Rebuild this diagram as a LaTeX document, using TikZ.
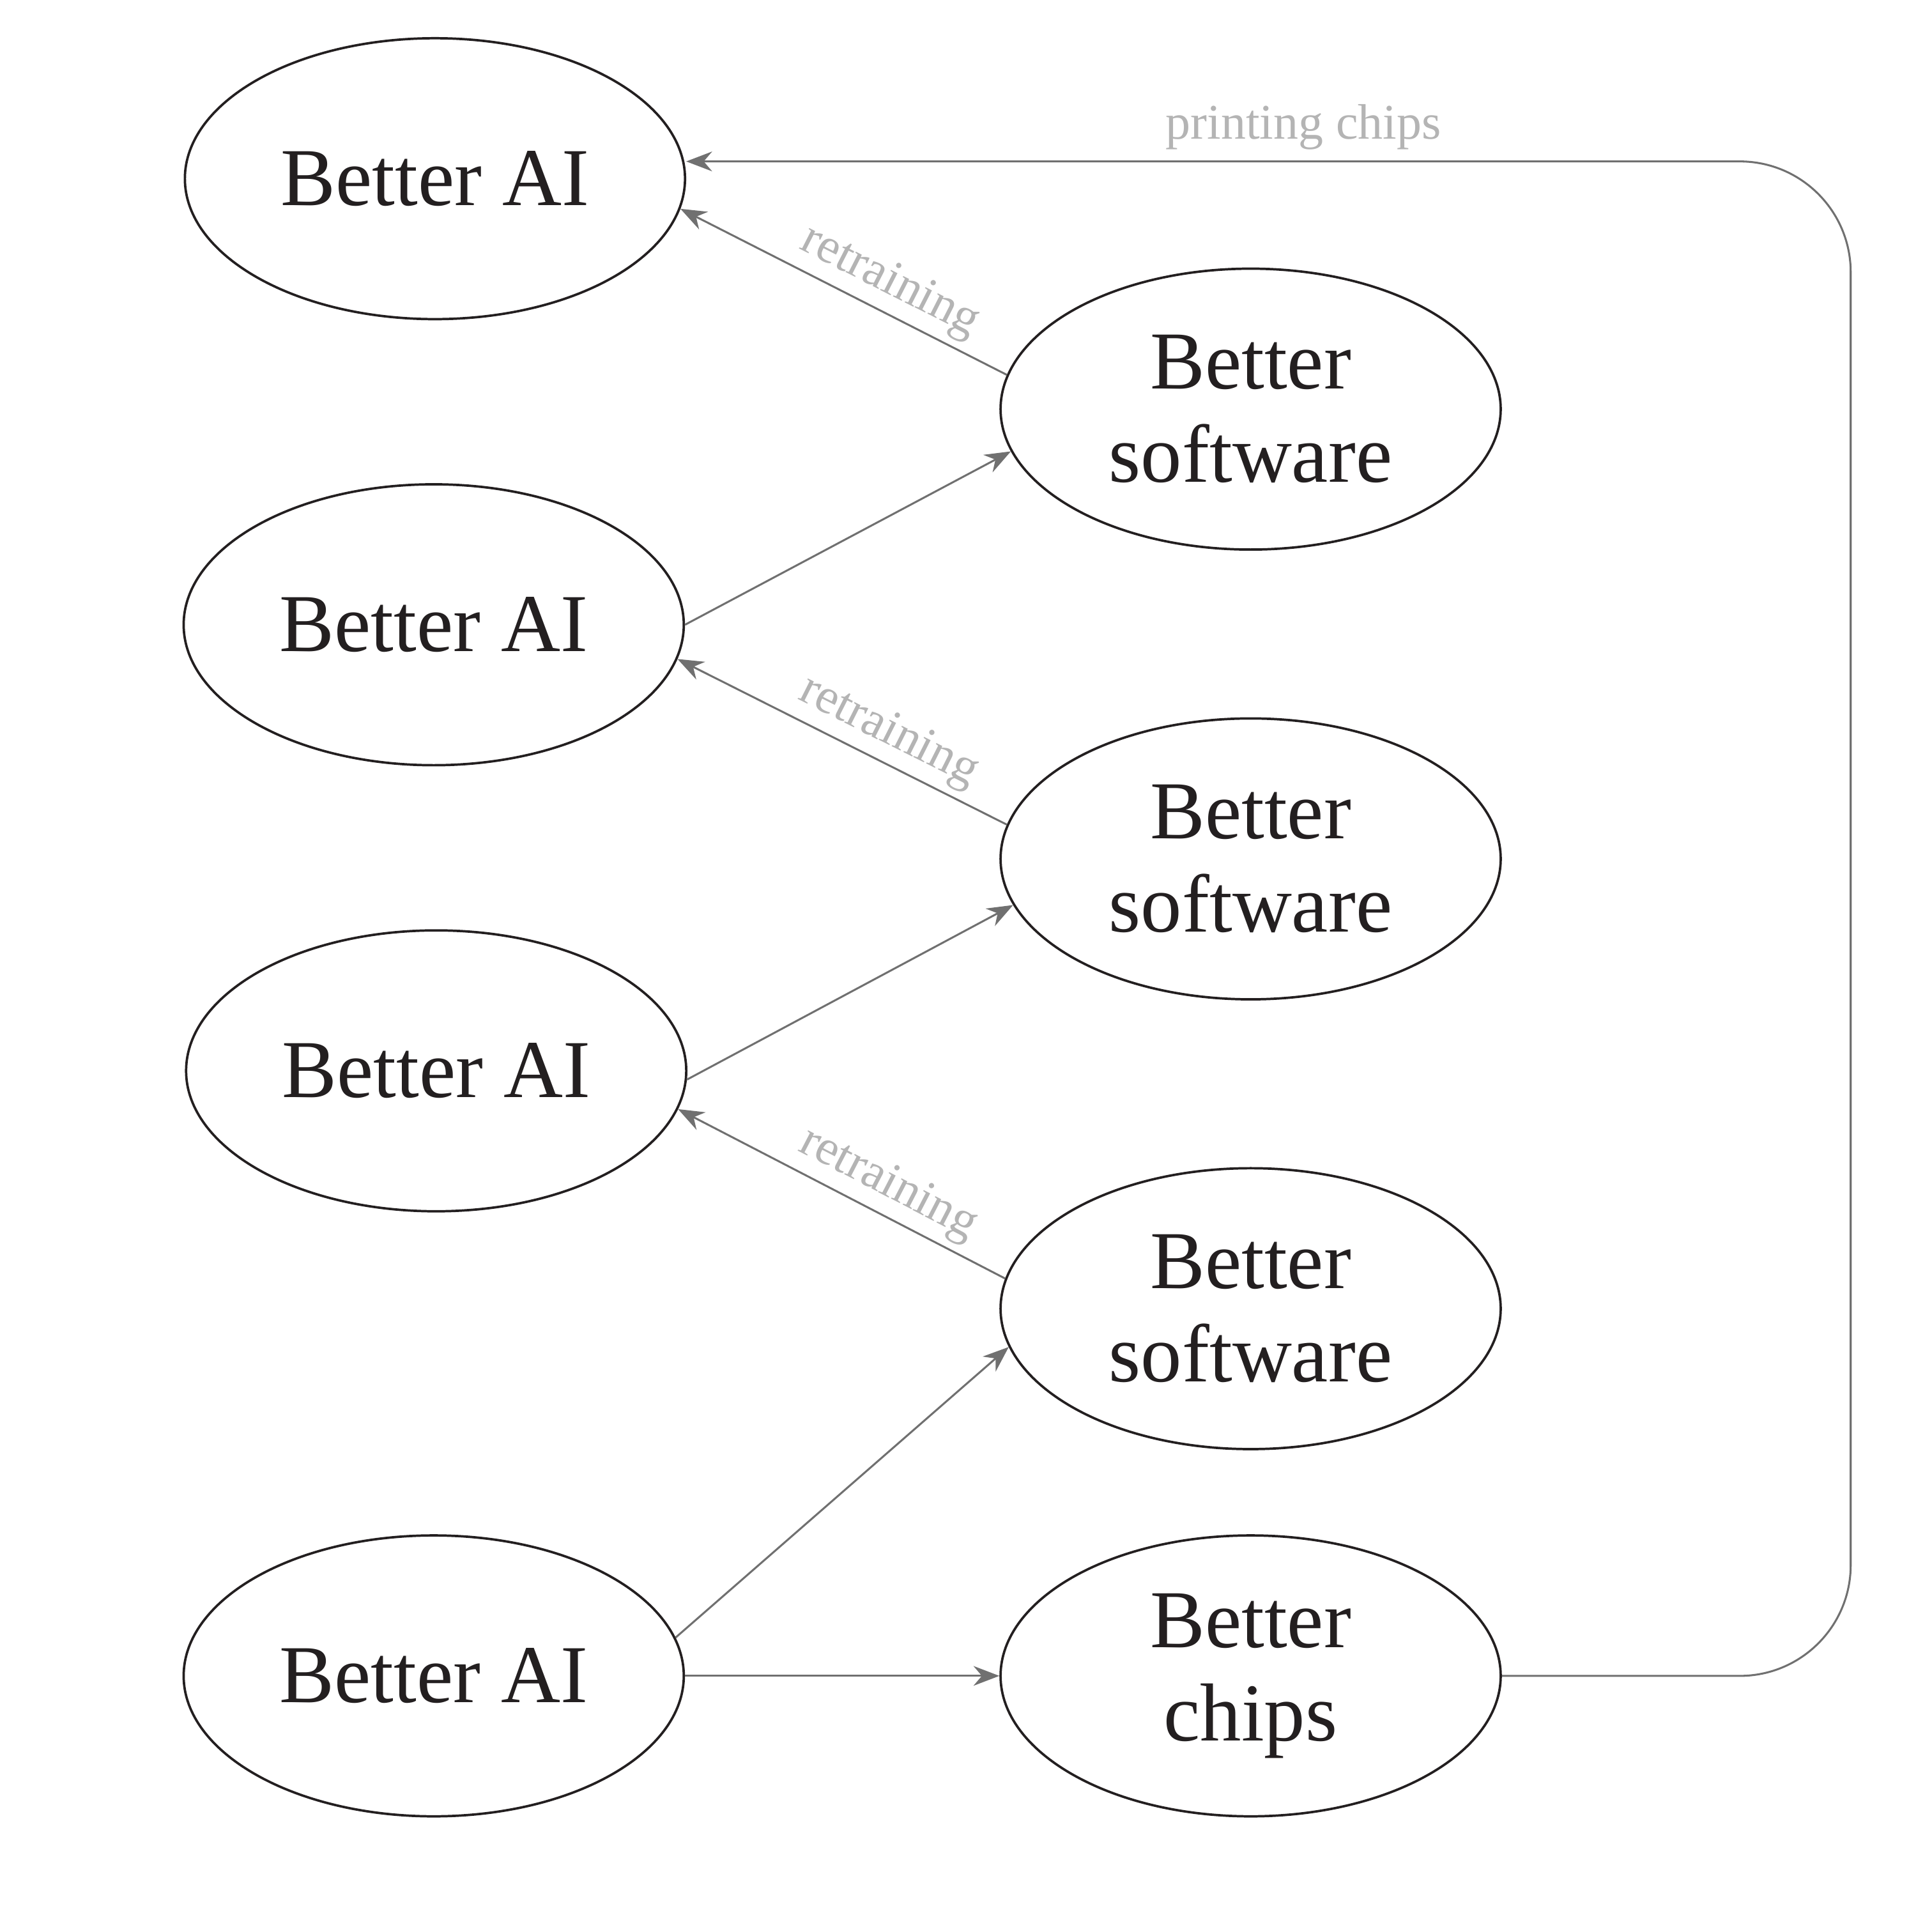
\documentclass[tikz,border=0pt]{standalone}
\usepackage{fontspec}
\setmainfont{Liberation Serif}
\usetikzlibrary{shapes.geometric,arrows.meta}
\definecolor{txt}{HTML}{231F20}
\definecolor{edge}{HTML}{707070}
\definecolor{lbl}{HTML}{B4B4B4}
\begin{document}
\begin{tikzpicture}[x=0.02cm,y=-0.02cm,
  ell/.style={ellipse,draw=txt,line width=1.1pt,minimum width=8.12cm,minimum height=4.56cm,inner sep=0pt,
    text=txt,font=\fontsize{38}{43}\selectfont,align=center},
  conn/.style={draw=edge,line width=0.9pt,-{Stealth[length=0.42cm,width=0.32cm]}},
  elabel/.style={text=lbl,font=\fontsize{23}{25}\selectfont,sloped,above,inner sep=3pt}]
\useasboundingbox (0,0) rectangle (1568,1552);
\node[ell] (ai1) at (353,145) {Better AI};
\node[ell] (ai2) at (352,507) {Better AI};
\node[ell] (ai3) at (354,869) {Better AI};
\node[ell] (ai4) at (352,1360) {Better AI};
\node[ell] (s1) at (1015,332) {Better\\software};
\node[ell] (s2) at (1015,697) {Better\\software};
\node[ell] (s3) at (1015,1062) {Better\\software};
\node[ell] (ch) at (1015,1360) {Better\\chips};
\draw[conn] (s1.172) -- node[elabel,pos=0.4]{retraining} (ai1.-7.6);
\draw[conn] (ai2.east) -- (s1.190.5);
\draw[conn] (s2.172.6) -- node[elabel,pos=0.4]{retraining} (ai2.-8);
\draw[conn] (ai3.-2) -- (s2.191.7);
\draw[conn] (s3.173) -- node[elabel,pos=0.4]{retraining} (ai3.-9);
\draw[conn] (ai4.9.3) -- (s3.189.3);
\draw[conn] (ai4.east) -- (ch.west);
\coordinate (c1) at (1502,1360);
\coordinate (c2) at (1502,131);
\draw[conn,rounded corners=1.8cm] (ch.east) -- (c1) -- (c2) -- node[elabel,pos=0.47,inner sep=5pt]{printing chips} (ai1.east |- c2);
\end{tikzpicture}
\end{document}
